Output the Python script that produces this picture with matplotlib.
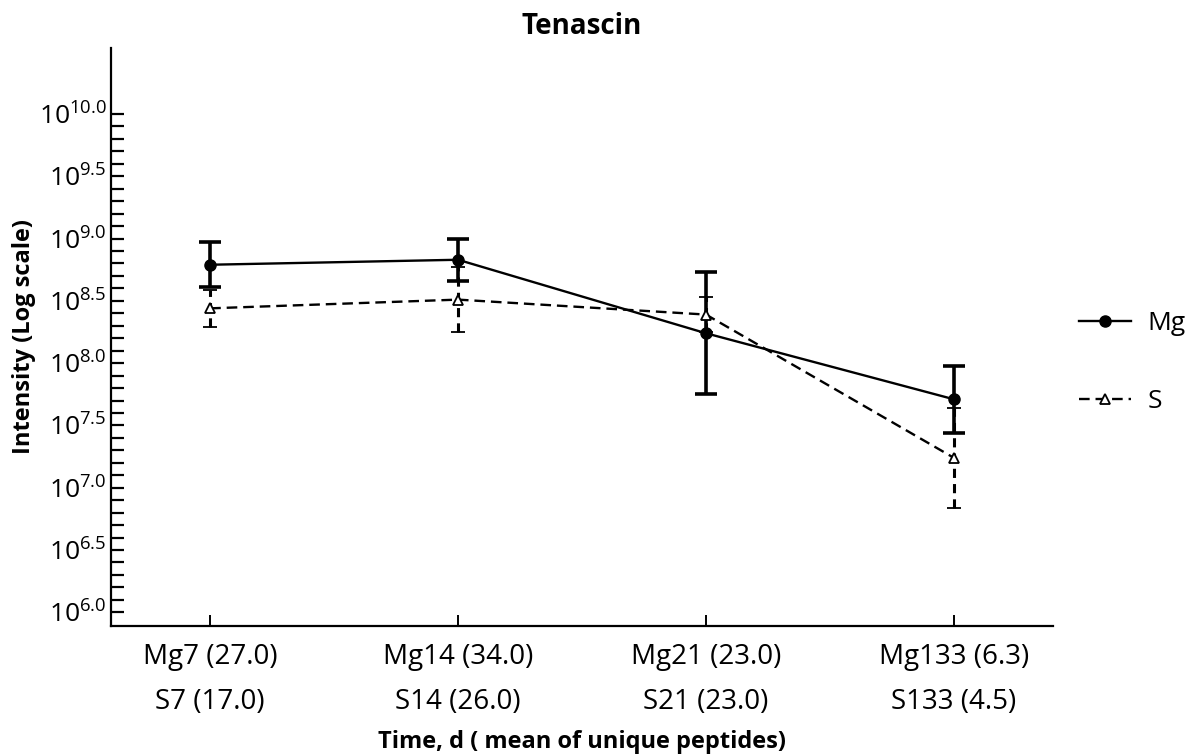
import numpy as np
import matplotlib
matplotlib.use("Agg")
import matplotlib.pyplot as plt
from matplotlib.ticker import FixedLocator, FuncFormatter, NullFormatter

plt.rcParams['font.family'] = ['Open Sans', 'DejaVu Sans']

# data (log10 of intensity)
labels = ["Mg7 (27.0)\nS7 (17.0)", "Mg14 (34.0)\nS14 (26.0)",
          "Mg21 (23.0)\nS21 (23.0)", "Mg133 (6.3)\nS133 (4.5)"]
mg_log = [8.79, 8.83, 8.24, 7.71]
mg_err = [0.18, 0.17, 0.49, 0.27]
s_log = [8.44, 8.51, 8.39, 7.24]
s_err = [0.15, 0.26, 0.14, 0.40]

x = np.arange(len(labels))
mg = 10 ** np.array(mg_log)
s = 10 ** np.array(s_log)
mg_lo = mg - 10 ** (np.array(mg_log) - np.array(mg_err))
mg_hi = 10 ** (np.array(mg_log) + np.array(mg_err)) - mg
s_lo = s - 10 ** (np.array(s_log) - np.array(s_err))
s_hi = 10 ** (np.array(s_log) + np.array(s_err)) - s

fig = plt.figure(figsize=(12, 7.56), dpi=100)
ax = fig.add_axes([0.0925, 0.172, 0.785, 0.7645])

eb_s = ax.errorbar(x, s, yerr=[s_lo, s_hi], color='black', ls='--', lw=1.7,
                   marker='^', ms=7, mfc='white', mec='black', mew=1.3,
                   elinewidth=2.2, capsize=5, capthick=2.2, label='S')
eb_s[0].set_dashes([4.5, 2.5])
eb_s[2][0].set_linestyle((0, (3, 2)))
eb_m = ax.errorbar(x, mg, yerr=[mg_lo, mg_hi], color='black', ls='-', lw=1.7,
                   marker='o', ms=8, elinewidth=2.6, capsize=8, capthick=2.6,
                   label='Mg')

ax.set_yscale('log')
ax.set_ylim(10 ** 5.89, 10 ** 10.53)
ax.set_xlim(-0.4, 3.4)

major = 10 ** np.arange(6.0, 10.01, 0.5)
minor = 10 ** np.arange(6.0, 10.01, 0.1)
ax.yaxis.set_major_locator(FixedLocator(major))
ax.yaxis.set_minor_locator(FixedLocator(minor))
ax.yaxis.set_major_formatter(FuncFormatter(lambda v, p: r"$\mathregular{10^{%.1f}}$" % np.log10(v)))
ax.yaxis.set_minor_formatter(NullFormatter())

ax.set_xticks(x)
ax.set_xticklabels(labels, fontsize=20, linespacing=1.85)

ax.tick_params(axis='y', which='both', direction='in', length=9, width=1.6, labelsize=19, pad=3)
ax.tick_params(axis='x', direction='in', length=8, width=1.4, pad=12)

for side in ['top', 'right']:
    ax.spines[side].set_visible(False)
for side in ['left', 'bottom']:
    ax.spines[side].set_linewidth(1.6)

ax.set_title("Tenascin", fontsize=20, fontweight='bold', pad=10)
ax.set_xlabel("Time, d ( mean of unique peptides)", fontsize=17, fontweight='bold', labelpad=10)
ax.set_ylabel("Intensity (Log scale)", fontsize=17, fontweight='bold', labelpad=2)

h, l = ax.get_legend_handles_labels()
h = [hh[0] for hh in h]
leg = fig.legend(h[::-1], l[::-1], loc='center left', bbox_to_anchor=(0.89, 0.52),
                 frameon=False, fontsize=19, handlelength=2.0, handletextpad=0.6,
                 labelspacing=2.0, borderaxespad=0)

fig.savefig("out.png", dpi=100)
